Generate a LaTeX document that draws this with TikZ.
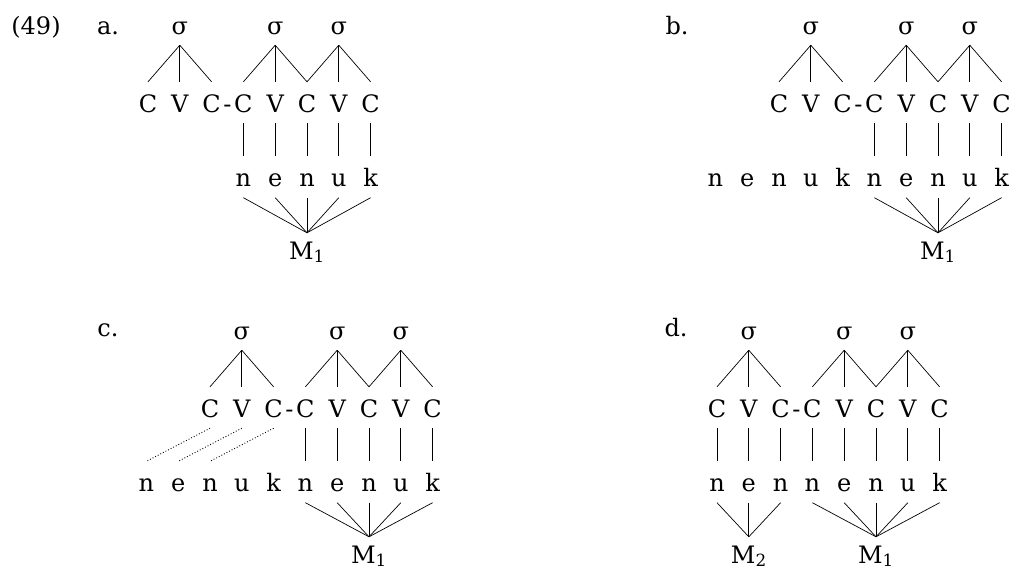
\documentclass[tikz,border=0pt]{standalone}
\usepackage{fontspec}
\setmainfont{DejaVu Serif}
\newcommand{\Chyph}{C\rlap{\kern2.5pt-}}
\begin{document}
\begin{tikzpicture}[x=1pt,y=-1pt,
  seg/.style={font=\fontsize{24}{28}\selectfont, anchor=base, text height=19pt, text depth=0pt, inner xsep=0pt, inner ysep=11pt},
  mnode/.style={seg, inner ysep=7pt},
  lbl/.style={font=\fontsize{24}{28}\selectfont, anchor=base},
  ln/.style={line width=0.7pt},
  dl/.style={line width=0.9pt, dotted}]
\useasboundingbox (0,0) rectangle (1011,571);
\def\st{31.8}
% ---------- labels
\node[lbl] (n49) at (36,34) {(49)};
\node[lbl] (la) at (108,34) {a.};
\node[lbl] (lb) at (677,34) {b.};
\node[lbl] (lc) at (108,336) {c.};
\node[lbl] (ld) at (676,336) {d.};
% ---------- panel a
\foreach \t [count=\i] in {C,V,\Chyph,C,V,C,V,C}
  \node[seg] (a\i) at ({148+\st*(\i-1)},112) {\t};
\node[seg] (as1) at ({148+\st*1},34) {σ};
\node[seg] (as2) at ({148+\st*4},34) {σ};
\node[seg] (as3) at ({148+\st*6},34) {σ};
\foreach \t [count=\i from 4] in {n,e,n,u,k}
  \node[seg] (an\i) at ({148+\st*(\i-1)},186.5) {\t};
\node[mnode] (am) at ({148+\st*5},259) {M\textsubscript{1}};
\foreach \j in {1,2,3} \draw[ln] (as1.south) -- (a\j.north);
\foreach \j in {4,5,6} \draw[ln] (as2.south) -- (a\j.north);
\foreach \j in {6,7,8} \draw[ln] (as3.south) -- (a\j.north);
\foreach \j in {4,...,8} \draw[ln] (a\j.south) -- (an\j.north);
\foreach \j in {4,...,8} \draw[ln] (an\j.south) -- (am.north);
% ---------- panel b
\foreach \t [count=\i] in {C,V,\Chyph,C,V,C,V,C}
  \node[seg] (b\i) at ({779+\st*(\i-1)},112) {\t};
\node[seg] (bs1) at ({779+\st*1},34) {σ};
\node[seg] (bs2) at ({779+\st*4},34) {σ};
\node[seg] (bs3) at ({779+\st*6},34) {σ};
\foreach \t [count=\i] in {n,e,n,u,k}
  \node[seg] (bl\i) at ({779+\st*(\i-3)},186.5) {\t};
\foreach \t [count=\i from 4] in {n,e,n,u,k}
  \node[seg] (bn\i) at ({779+\st*(\i-1)},186.5) {\t};
\node[mnode] (bm) at ({779+\st*5},259) {M\textsubscript{1}};
\foreach \j in {1,2,3} \draw[ln] (bs1.south) -- (b\j.north);
\foreach \j in {4,5,6} \draw[ln] (bs2.south) -- (b\j.north);
\foreach \j in {6,7,8} \draw[ln] (bs3.south) -- (b\j.north);
\foreach \j in {4,...,8} \draw[ln] (b\j.south) -- (bn\j.north);
\foreach \j in {4,...,8} \draw[ln] (bn\j.south) -- (bm.north);
% ---------- panel c
\foreach \t [count=\i] in {C,V,\Chyph,C,V,C,V,C}
  \node[seg] (c\i) at ({210+\st*(\i-1)},417) {\t};
\node[seg] (cs1) at ({210+\st*1},339) {σ};
\node[seg] (cs2) at ({210+\st*4},339) {σ};
\node[seg] (cs3) at ({210+\st*6},339) {σ};
\foreach \t [count=\i] in {n,e,n,u,k}
  \node[seg] (cl\i) at ({210+\st*(\i-3)},491.5) {\t};
\foreach \t [count=\i from 4] in {n,e,n,u,k}
  \node[seg] (cn\i) at ({210+\st*(\i-1)},491.5) {\t};
\node[mnode] (cm) at ({210+\st*5},563) {M\textsubscript{1}};
\foreach \j in {1,2,3} \draw[ln] (cs1.south) -- (c\j.north);
\foreach \j in {4,5,6} \draw[ln] (cs2.south) -- (c\j.north);
\foreach \j in {6,7,8} \draw[ln] (cs3.south) -- (c\j.north);
\foreach \j in {1,2,3} \draw[dl] (c\j.south) -- (cl\j.north);
\foreach \j in {4,...,8} \draw[ln] (c\j.south) -- (cn\j.north);
\foreach \j in {4,...,8} \draw[ln] (cn\j.south) -- (cm.north);
% ---------- panel d
\foreach \t [count=\i] in {C,V,\Chyph,C,V,C,V,C}
  \node[seg] (d\i) at ({717+\st*(\i-1)},417) {\t};
\node[seg] (ds1) at ({717+\st*1},339) {σ};
\node[seg] (ds2) at ({717+\st*4},339) {σ};
\node[seg] (ds3) at ({717+\st*6},339) {σ};
\foreach \t [count=\i] in {n,e,n,n,e,n,u,k}
  \node[seg] (dn\i) at ({717+\st*(\i-1)},491.5) {\t};
\node[mnode] (dm2) at ({717+\st*1},563) {M\textsubscript{2}};
\node[mnode] (dm1) at ({717+\st*5},563) {M\textsubscript{1}};
\foreach \j in {1,2,3} \draw[ln] (ds1.south) -- (d\j.north);
\foreach \j in {4,5,6} \draw[ln] (ds2.south) -- (d\j.north);
\foreach \j in {6,7,8} \draw[ln] (ds3.south) -- (d\j.north);
\foreach \j in {1,...,8} \draw[ln] (d\j.south) -- (dn\j.north);
\foreach \j in {1,2,3} \draw[ln] (dn\j.south) -- (dm2.north);
\foreach \j in {4,...,8} \draw[ln] (dn\j.south) -- (dm1.north);
\end{tikzpicture}
\end{document}
